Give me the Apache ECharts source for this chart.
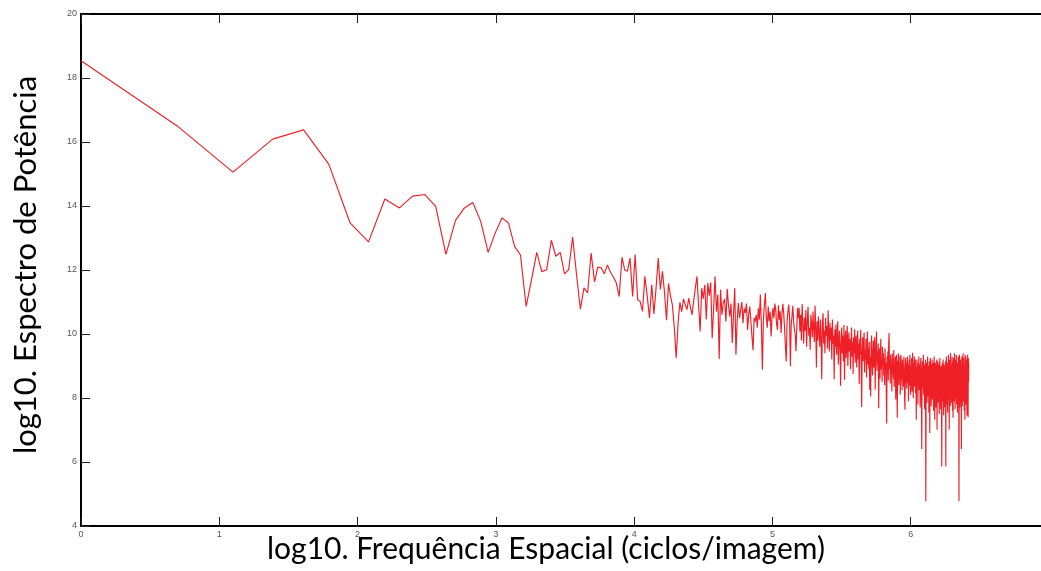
<!DOCTYPE html>
<html>
<head>
<meta charset="utf-8">
<script src="https://cdn.jsdelivr.net/npm/echarts@6/dist/echarts.min.js"></script>
<style>
  html, body { margin: 0; padding: 0; background: #fff; }
  #chart { width: 1041px; height: 571px; }
</style>
</head>
<body>
<div id="chart"></div>
<script>
// Power spectrum values, one per spatial frequency k = 1, 2, 3, ... (cycles/image)
const powerLow = [18.54, 16.51, 15.06, 16.09, 16.38, 15.31, 13.47, 12.88, 14.22, 13.94,
  14.31, 14.36, 13.99, 12.49, 13.55, 13.94, 14.11, 13.52, 12.55, 13.16,
  13.63, 13.47, 12.74, 12.47, 10.86, 11.70, 12.55, 11.95, 12.01, 12.93,
  12.43, 12.55, 11.88, 12.01, 13.03, 11.85, 10.78, 11.44, 11.28, 12.53,
  11.63, 12.09, 12.07, 11.88, 12.16, 11.93, 11.78, 11.59, 11.17, 12.40,
  12.00, 11.96, 12.37, 11.17, 12.48];

const powerMid = [11.07, 11.02, 10.71, 11.80, 11.20, 10.50, 11.54, 10.63, 11.45, 12.37,
  11.39, 11.96, 11.30, 10.43, 11.58, 11.20, 10.90, 10.20, 9.25, 10.30,
  10.99, 10.70, 11.10, 10.92, 10.76, 11.12, 10.85, 10.60, 11.05, 11.44,
  11.80, 10.90, 10.08, 11.44, 11.10, 11.54, 10.45, 11.59, 11.20, 11.61,
  9.87, 10.80, 11.80, 10.70, 11.23, 9.22, 11.38, 10.60, 10.97, 11.10,
  10.39, 11.41, 10.90, 10.55, 10.95, 9.72, 10.60, 11.44, 9.35, 10.40,
  10.97, 10.50, 10.76, 11.00, 10.34, 10.80, 10.66, 10.95, 10.13, 10.60,
  10.86, 10.40, 9.92, 9.49, 10.50, 10.39, 10.60, 10.20, 10.80, 10.45,
  11.23, 10.30, 8.88, 10.40, 10.90, 11.28, 10.50, 10.20, 10.86, 10.40,
  10.70, 9.92, 10.50, 10.81, 10.50, 10.95, 10.76, 10.30, 10.13, 10.90,
  10.45, 10.71, 10.03, 10.60, 10.94, 10.66, 10.20, 9.60, 9.14, 10.40,
  10.70, 10.92, 10.50, 8.99, 10.30, 10.55, 10.88, 10.40, 10.13, 10.00,
  9.46, 10.20, 10.81, 10.50, 10.82, 10.08,
  10.60, 9.80, 10.94, 10.30, 9.70, 10.50, 10.10, 10.75, 9.60, 10.40,
  10.85, 9.95, 10.20, 9.51, 10.60, 10.30, 9.90, 10.70, 10.15, 9.75,
  10.88, 10.20, 8.95, 10.40, 9.80, 10.55, 10.05, 9.60, 10.45, 9.85,
  8.59, 10.30, 10.65, 9.70, 10.10, 9.40, 10.50, 9.95, 10.25, 9.55,
  10.74, 10.00, 9.45, 10.35, 9.80, 10.20, 9.20, 10.45, 9.70, 9.95,
  8.59, 10.15, 9.60, 10.30, 9.35, 9.90, 10.40, 9.05, 9.75, 10.10,
  9.50, 8.38, 9.85, 10.20, 9.40, 9.95, 9.15, 10.29, 8.57];

const powerHigh = [9.70, 10.10, 9.25, 9.80, 10.25, 9.00, 9.60, 10.05, 9.45, 9.85,
  8.90, 9.55, 10.20, 9.30, 9.75, 8.75, 9.90, 9.40, 10.15, 9.10,
  9.65, 9.95, 8.95, 9.50, 10.10, 9.20, 9.70, 8.44, 9.85, 9.35,
  10.13, 9.00, 7.72, 9.45, 9.90, 9.15, 9.60, 10.05, 8.80, 9.50,
  9.20, 9.85, 8.65, 9.40, 10.08, 9.05, 9.55, 8.90, 9.75, 8.26,
  9.30, 8.05, 9.65, 9.95, 9.10, 8.70, 9.45, 9.80, 8.95, 9.35,
  9.90, 8.26, 9.25, 9.60, 10.08, 8.85, 9.40, 9.05, 9.70, 7.68,
  9.15, 9.55, 8.60, 9.30, 9.85, 8.90, 9.20, 8.50, 9.60, 9.00,
  9.40, 8.70, 9.25, 8.40, 9.55, 8.95, 9.10, 8.30, 7.20, 9.30,
  8.80, 9.45, 8.55, 9.70, 10.03, 8.90, 9.20, 8.45, 9.35, 8.75,
  9.10, 8.20, 9.40, 8.85, 9.25, 8.60, 9.50, 8.35, 9.05, 8.80,
  9.30, 7.95, 8.95, 9.35, 8.50, 7.38, 9.15, 8.70, 9.40, 8.40,
  9.00, 8.65, 9.30, 8.10, 8.90, 9.35, 8.55, 9.10, 8.25, 9.20,
  8.75, 9.00, 8.35, 9.30, 8.60, 8.05, 7.63, 8.95, 9.25, 8.45,
  9.10, 8.30, 8.85, 9.30, 8.50, 9.05, 7.90, 8.80, 9.20, 8.40,
  9.35, 8.65, 8.10, 9.00, 8.70, 9.25, 8.20, 8.90, 9.41, 8.55,
  8.00, 9.10, 8.75, 9.30, 8.35, 8.85, 9.20, 8.15, 8.95, 7.32,
  8.80, 9.20, 8.40, 8.95, 7.80, 9.10, 8.55, 9.30, 8.25, 8.70,
  9.05, 7.70, 8.90, 9.25, 8.45, 7.95, 6.41, 8.85, 9.15, 8.30,
  8.75, 9.35, 8.10, 8.60, 9.05, 7.65, 8.95, 8.40, 9.20, 4.77,
  8.70, 9.10, 8.35, 7.85, 8.90, 9.30, 8.50, 8.05, 9.00, 7.55,
  8.80, 9.15, 6.91, 8.60, 9.25, 8.20, 8.85, 7.75, 9.05, 8.45,
  9.20, 7.95, 8.70, 9.10, 8.30, 7.60, 8.95, 9.30, 8.15, 7.32,
  8.85, 9.10, 8.40, 7.70, 9.00, 8.55, 9.20, 7.01, 8.75, 8.30,
  9.15, 7.85, 8.60, 9.05, 8.20, 7.50, 8.90, 9.25, 8.05, 8.70,
  7.65, 9.00, 8.45, 8.15, 5.86, 8.80, 9.10, 7.90, 8.50, 9.20,
  8.00, 7.45, 8.85, 9.05, 8.30, 7.70, 8.95, 8.35, 9.15, 5.86,
  8.60, 9.30, 7.80, 8.75, 9.10, 8.20, 7.55, 9.00, 8.45, 9.35,
  7.95, 8.65, 7.01, 9.20, 8.40, 8.90, 7.75, 9.41, 8.25, 8.70,
  9.05, 7.85, 8.55, 9.30, 8.10, 7.60, 9.15, 7.38, 8.80, 9.25,
  8.35, 7.90, 8.95, 9.40, 8.20, 7.65, 8.85, 9.20, 8.00, 8.60,
  9.35, 7.80, 8.70, 9.10, 8.30, 7.55, 9.00, 8.45, 9.30, 7.95,
  8.75, 4.77, 8.90, 9.35, 8.15, 7.70, 8.80, 9.20, 8.40, 7.85,
  9.05, 6.41, 8.60, 9.30, 8.10, 7.75, 9.15, 8.50, 9.40, 7.90,
  8.70, 9.25, 8.25, 7.60, 9.00, 8.55, 7.32, 9.35, 8.20, 8.85,
  9.30, 7.80, 8.65, 9.20, 8.35, 7.45, 9.10, 8.75, 9.35, 8.00,
  7.40, 9.25, 8.50, 9.10];

// Axis tick labels (exponents of the frequency axis) and the power axis range
const xTickLabels = ['0', '1', '2', '3', '4', '5', '6'];
const yRange = { min: 4, max: 20, step: 2 };

const power = powerLow.concat(powerMid, powerHigh);
// each value sits at its frequency index k (1-based)
const seriesData = power.map((p, i) => [i + 1, p]);

const chart = echarts.init(document.getElementById('chart'), null, { renderer: 'canvas' });

const tickFont = { fontFamily: 'Liberation Sans', fontSize: 9, color: '#555' };

const freqAxisBase = {
  type: 'log',
  logBase: Math.E,
  min: 1,
  max: Math.exp(7),
  axisLine: { show: true, onZero: false, lineStyle: { color: '#000', width: 2 } },
  axisTick: { show: true, inside: true, length: 9, lineStyle: { color: '#222', width: 1 } },
  splitLine: { show: false },
  minorTick: { show: false }
};

chart.setOption({
  animation: false,
  backgroundColor: '#fff',
  // the frame runs slightly past the right edge of the canvas
  grid: { left: 81, top: 14, width: 968, height: 512, outerBoundsMode: 'none', containLabel: false },
  xAxis: [
    Object.assign({}, freqAxisBase, {
      position: 'bottom',
      axisLabel: Object.assign({ margin: 4, formatter: v => xTickLabels[Math.round(Math.log(v))] || '' }, tickFont),
      name: 'log10. Frequência Espacial (ciclos/imagem)',
      nameLocation: 'middle',
      nameGap: 8,
      nameMoveOverlap: false,
      nameTextStyle: { fontFamily: 'Lato', fontSize: 30, color: '#000', verticalAlign: 'top', padding: [0, 38, 0, 0] }
    }),
    Object.assign({}, freqAxisBase, {
      position: 'top',
      axisLabel: { show: false }
    })
  ],
  yAxis: {
    type: 'value',
    min: yRange.min,
    max: yRange.max,
    interval: yRange.step,
    axisLine: { show: true, lineStyle: { color: '#000', width: 2 } },
    axisTick: { show: true, inside: true, length: 9, lineStyle: { color: '#222', width: 1 } },
    axisLabel: Object.assign({ margin: 4 }, tickFont),
    splitLine: { show: false },
    name: 'log10. Espectro de Potência',
    nameLocation: 'middle',
    nameGap: 40,
    nameMoveOverlap: false,
    nameTextStyle: { fontFamily: 'Lato', fontSize: 31, color: '#000', padding: [0, 0, 0, 10] }
  },
  series: [{
    type: 'line',
    xAxisIndex: 0,
    data: seriesData,
    showSymbol: false,
    symbol: 'none',
    lineStyle: { color: '#ee1f27', width: 1.15 },
    silent: true
  }]
});
</script>
</body>
</html>
